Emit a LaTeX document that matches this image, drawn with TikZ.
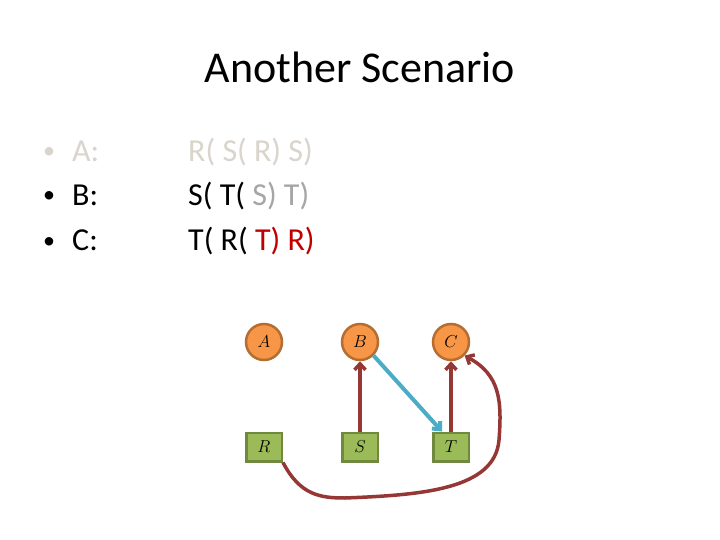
\documentclass[tikz,border=0pt]{standalone}
\usepackage{fontspec}
\setmainfont{Carlito}
\usetikzlibrary{arrows.meta}
\definecolor{procfill}{HTML}{F79646}
\definecolor{procline}{HTML}{B66D31}
\definecolor{resfill}{HTML}{9BBB59}
\definecolor{resline}{HTML}{71893F}
\definecolor{linkred}{HTML}{953735}
\definecolor{linkblue}{HTML}{4BACC6}
\definecolor{fadedtext}{HTML}{D9D5CC}
\definecolor{greytext}{HTML}{A6A6A6}
\definecolor{redtext}{HTML}{C00000}

\begin{document}
\begin{tikzpicture}[x=1pt,y=-1pt,
    proc/.style={circle,draw=procline,fill=procfill,line width=2.5pt,minimum size=36pt,inner sep=0pt,font=\fontsize{17}{17}\selectfont},
    res/.style={rectangle,draw=resline,fill=resfill,line width=2.5pt,minimum width=35.5pt,minimum height=28.5pt,inner sep=0pt,font=\fontsize{17}{17}\selectfont},
    line/.style={anchor=base west,inner sep=0pt,font=\fontsize{32}{38}\selectfont},
    dot/.style={anchor=base,inner sep=0pt,font=\fontsize{24}{24}\selectfont},
    link/.style={draw=linkred,line width=3.5pt,-{Straight Barb[length=6pt,width=11pt]}}]
    \fill[white] (0,0) rectangle (720,540);
    \useasboundingbox (0,0) rectangle (720,540);

    % Title
    \node[anchor=base,inner sep=0pt,font=\fontsize{44}{50}\selectfont] (title) at (360,83) {Another Scenario};

    % Bullets
    \node[dot,text=fadedtext] (dota) at (49,159) {•};
    \node[dot] (dotb) at (49,203) {•};
    \node[dot] (dotc) at (49,248) {•};
    \node[line,text=fadedtext] (la) at (72,162) {A:};
    \node[line] (lb) at (72,206) {B:};
    \node[line] (lc) at (72,251) {C:};
    \node[line,text=fadedtext] (sa) at (188,162) {R( S( R) S)};
    \node[line] (sb) at (188,206) {S( T( \textcolor{greytext}{S) T)}};
    \node[line] (sc) at (188,251) {T( R( \textcolor{redtext}{T) R)}};

    % Processes and resources
    \node[proc] (a) at (264,342) {$A$};
    \node[proc] (b) at (360,342) {$B$};
    \node[proc] (c) at (451,342) {$C$};
    \node[res] (r) at (264,447) {$R$};
    \node[res] (s) at (360,447) {$S$};
    \node[res] (t) at (451,447) {$T$};

    % Edges
    \draw[link] (s) -- (b);
    \draw[link] (t) -- (c);
    \draw[link,draw=linkblue,line width=4pt] (b.-45) -- ([xshift=10pt]t.north west);
    \draw[link] (r.south east) .. controls (300,495) and (320,498) .. (345,498)
        .. controls (420,495) and (495,490) .. (499,440)
        .. controls (502,400) and (500,375) .. (c.south east);
\end{tikzpicture}
\end{document}
